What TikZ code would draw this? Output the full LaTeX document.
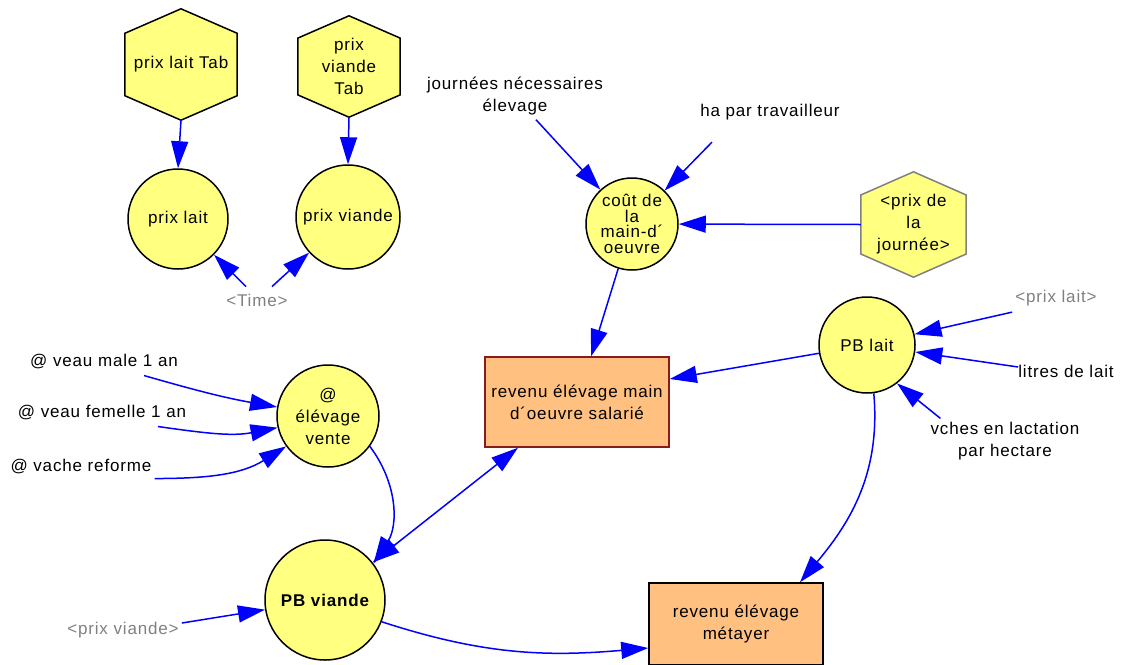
\documentclass[tikz,border=0pt]{standalone}
\usepackage{fontspec}
\setmainfont{Liberation Sans}[LetterSpace=5]
\usetikzlibrary{arrows.meta,calc,backgrounds}

\definecolor{auxfill}{RGB}{255,255,128}
\definecolor{lvlfill}{RGB}{255,192,128}
\definecolor{lvlborder}{RGB}{139,26,26}
\definecolor{linkblue}{RGB}{0,0,255}
\definecolor{shadowgray}{RGB}{128,128,128}

\tikzset{
  txt/.style={font=\fontsize{17}{22}\selectfont, text=black, align=center, inner sep=0pt},
  ghost/.style={txt, text=shadowgray},
  auxvar/.style={txt, circle, draw=black, line width=1.5pt, fill=auxfill, minimum size=#1},
  level/.style={txt, rectangle, fill=lvlfill, line width=1.5pt},
  hexvar/.style={txt, rectangle},
  tip/.tip={Triangle[length=27pt,width=17pt]},
  link/.style={draw=linkblue, line width=1.5pt, -tip},
}

% stretched hexagon (pointed top and bottom) behind a named node
\newcommand{\hexoutline}[2]{%
  \begin{scope}[on background layer]
    \filldraw[fill=auxfill, draw=#2, line width=1.5pt, line join=miter]
      (#1.north)
      -- ($(#1.north east)!0.22!(#1.south east)$)
      -- ($(#1.north east)!0.78!(#1.south east)$)
      -- (#1.south)
      -- ($(#1.north west)!0.78!(#1.south west)$)
      -- ($(#1.north west)!0.22!(#1.south west)$)
      -- cycle;
  \end{scope}}

\begin{document}
\begin{tikzpicture}[x=1pt,y=1pt]
\useasboundingbox (0,0) rectangle (1129,-664);

% price tables and prices
\node[hexvar, minimum width=112pt, minimum height=111pt] (plt) at (181,-64.5) {prix lait Tab};
\hexoutline{plt}{black}
\node[hexvar, minimum width=102pt, minimum height=101pt] (pvt) at (349,-66.5) {prix\\viande\\Tab};
\hexoutline{pvt}{black}
\node[auxvar=100pt] (plait) at (178,-219) {prix lait};
\node[auxvar=104pt] (pviande) at (348,-217) {prix viande};
\node[ghost] (time) at (257,-300) {<Time>};

% labour cost
\node[txt] (jn) at (515,-96.5) {journées nécessaires\\élevage};
\node[txt] (ha) at (770,-112) {ha par travailleur};
\node[auxvar=92pt, font=\fontsize{17}{15.5}\selectfont] (cout) at (632,-224) {coût de\\la\\main-d´\\oeuvre};
\node[hexvar, minimum width=105pt, minimum height=105pt] (pjour) at (913.5,-224.5) {<prix de\\la\\journée>};
\hexoutline{pjour}{shadowgray}

% milk
\node[auxvar=96pt] (pblait) at (867,-345) {PB lait};
\node[ghost] (prixlait) at (1056,-298) {<prix lait>};
\node[txt] (litres) at (1066,-371) {litres de lait};
\node[txt] (vches) at (1005,-441.5) {vches en lactation\\par hectare};

% incomes
\node[level, draw=lvlborder, minimum width=184pt, minimum height=90pt] (sal) at (577,-402) {revenu élévage main\\d´oeuvre salarié};
\node[level, draw=black, minimum width=174pt, minimum height=82pt] (met) at (736,-624) {revenu élévage\\métayer};

% meat
\node[auxvar=102pt] (vente) at (328,-416) {@\\élévage\\vente};
\node[auxvar=120pt, font=\fontsize{17}{22}\selectfont\bfseries] (pbviande) at (325,-600) {PB viande};
\node[txt] (veaum) at (104,-362) {@ veau male 1 an};
\node[txt] (veauf) at (102,-413) {@ veau femelle 1 an};
\node[txt] (vache) at (81,-467) {@ vache reforme};
\node[ghost] (pvlabel) at (123,-630) {<prix viande>};

% links
\draw[link] (plt.south) -- (plait.north);
\draw[link] (pvt.south) -- (pviande.north);
\draw[link] ([xshift=-11pt,yshift=7pt]time.north) -- (plait);
\draw[link] ([xshift=15pt,yshift=7pt]time.north) -- (pviande);

\draw[link] ([xshift=21pt,yshift=-4pt]jn.south) -- (cout);
\draw[link] ([xshift=-58pt,yshift=-22pt]ha.south) -- (cout);
\draw[link] (pjour.west) -- (cout);
\draw[link] (cout) -- (sal);

\draw[link] (pblait) -- ([yshift=23pt]sal.east);
\draw[link] ([xshift=-3pt,yshift=-6pt]prixlait.south west) -- (pblait);
\draw[link] ([yshift=4pt]litres.west) -- (pblait);
\draw[link] ([xshift=10pt,yshift=4pt]vches.north west) -- (pblait.-52);
\draw[link] (pblait.-82) to[out=-85,in=50] ([xshift=64pt]met.north);

\draw[link] ([xshift=40pt,yshift=-6pt]veaum.south) to[out=-16,in=170] (vente.170);
\draw[link] ([xshift=56pt,yshift=-6pt]veauf.south) to[out=-8,in=191] (vente.-167);
\draw[link] ([xshift=3pt,yshift=-4pt]vache.south east) to[out=0,in=212] (vente.-144);
\draw[link] (vente.-36) to[out=-53,in=57] (pbviande.37);
\draw[link] ([xshift=3pt,yshift=7pt]pvlabel.east) -- (pbviande);

\draw[link, tip-tip] (pbviande) -- ([xshift=-59pt]sal.south);
\draw[link] (pbviande.-21) to[out=-18,in=185] ([yshift=-24pt]met.west);
\end{tikzpicture}
\end{document}
